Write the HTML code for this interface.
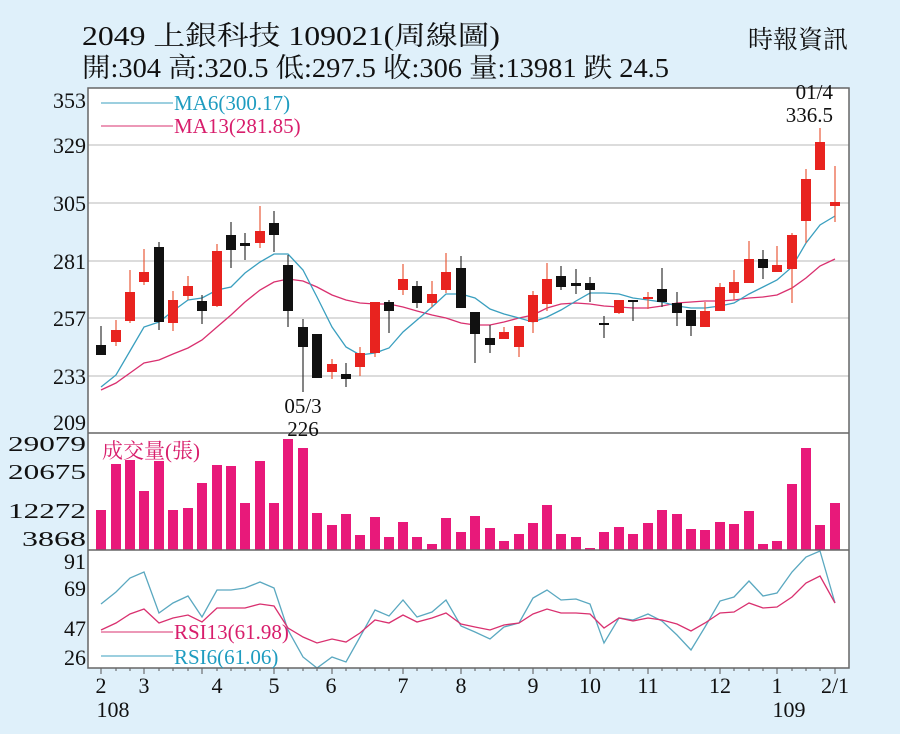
<!DOCTYPE html>
<html><head><meta charset="utf-8"><style>
html,body{margin:0;padding:0;background:#dff0fa;}
svg{display:block}
text{font-family:"Liberation Serif","Noto Serif CJK SC","Noto Sans CJK TC",serif;}
</style></head><body>
<svg id="s" width="900" height="734" viewBox="0 0 900 734" xmlns="http://www.w3.org/2000/svg">
<rect x="0" y="0" width="900" height="734" fill="#dff0fa"/>
<rect x="88" y="88" width="761" height="580" fill="#fff"/>
<g stroke="#c8c8c8" stroke-width="1.2">
<line x1="88" y1="145" x2="849" y2="145"/><line x1="88" y1="203" x2="849" y2="203"/>
<line x1="88" y1="261" x2="849" y2="261"/><line x1="88" y1="318" x2="849" y2="318"/>
<line x1="88" y1="376" x2="849" y2="376"/>
</g>
<g id="g"></g>
<g stroke="#666" stroke-width="1.5" fill="none">
<rect x="88" y="88" width="761" height="580"/>
<line x1="88" y1="433" x2="849" y2="433"/><line x1="88" y1="550" x2="849" y2="550"/>
</g>
<g font-size="22" fill="#111" text-anchor="end">
<text x="86" y="108">353</text><text x="86" y="153">329</text><text x="86" y="211">305</text>
<text x="86" y="269">281</text><text x="86" y="326">257</text><text x="86" y="384">233</text>
<text x="86" y="430">209</text>
</g>
<g font-size="21" fill="#111" text-anchor="end">
<text x="86" y="451" textLength="78" lengthAdjust="spacingAndGlyphs">29079</text><text x="86" y="479" textLength="78" lengthAdjust="spacingAndGlyphs">20675</text>
<text x="86" y="518" textLength="78" lengthAdjust="spacingAndGlyphs">12272</text><text x="86" y="546" textLength="64" lengthAdjust="spacingAndGlyphs">3868</text>
</g>
<g font-size="22" fill="#111" text-anchor="end">
<text x="86" y="569">91</text><text x="86" y="596">69</text><text x="86" y="636">47</text><text x="86" y="665">26</text>
</g>
<line x1="101" y1="103" x2="173" y2="103" stroke="#3a9fbf" stroke-width="1"/>
<text x="174" y="110" font-size="21" fill="#1f9cc0">MA6(300.17)</text>
<line x1="101" y1="126" x2="173" y2="126" stroke="#d9306f" stroke-width="1"/>
<text x="174" y="133" font-size="21" fill="#d81e6c">MA13(281.85)</text>
<text x="102" y="458" font-size="21" fill="#d81e6c">成交量(張)</text>
<line x1="101" y1="632" x2="173" y2="632" stroke="#d9306f" stroke-width="1"/>
<text x="174" y="639" font-size="21" fill="#d81e6c">RSI13(61.98)</text>
<line x1="101" y1="656" x2="173" y2="656" stroke="#3a9fbf" stroke-width="1"/>
<text x="174" y="664" font-size="21" fill="#1f9cc0">RSI6(61.06)</text>
<text x="303" y="413" font-size="21" fill="#111" text-anchor="middle">05/3</text>
<text x="303" y="436" font-size="21" fill="#111" text-anchor="middle">226</text>
<text x="833" y="99" font-size="21" fill="#111" text-anchor="end">01/4</text>
<text x="833" y="122" font-size="21" fill="#111" text-anchor="end">336.5</text>
<g font-size="22" fill="#111" text-anchor="middle">
<text x="101" y="693">2</text><text x="144" y="693">3</text><text x="217" y="693">4</text><text x="274" y="693">5</text>
<text x="331" y="693">6</text><text x="403" y="693">7</text><text x="461" y="693">8</text><text x="533" y="693">9</text>
<text x="590" y="693">10</text><text x="648" y="693">11</text><text x="720" y="693">12</text><text x="777" y="693">1</text>
<text x="835" y="693">2/1</text>
<text x="113" y="717">108</text><text x="789" y="717">109</text>
</g>
<text x="82" y="45" font-size="27" fill="#111" textLength="418" lengthAdjust="spacingAndGlyphs">2049  上銀科技 109021(周線圖)</text>
<text x="82" y="77" font-size="27" fill="#111" textLength="587" lengthAdjust="spacingAndGlyphs">開:304 高:320.5 低:297.5 收:306 量:13981 跌 24.5</text>
<text x="848" y="48" font-size="25" fill="#111" text-anchor="end">時報資訊</text>
</svg>
<script>
var NS="http://www.w3.org/2000/svg",g=document.getElementById("g");
function el(t,a){var e=document.createElementNS(NS,t);for(var k in a)e.setAttribute(k,a[k]);g.appendChild(e);return e;}
var X=[101,116,130,144,159,173,188,202,217,231,245,260,274,288,303,317,332,346,360,375,389,403,417,432,446,461,475,490,504,519,533,547,561,576,590,604,619,633,648,662,677,691,705,720,734,749,763,777,792,806,820,835];
var C=[[345,355,326,355,0],[330,342,320,346,1],[292,321,270,323,1],[272,282,249,285,1],[247,322,242,330,0],[300,323,291,331,1],[286,296,276,300,1],[301,311,295,324,0],[251,306,244,307,1],[235,250,222,268,0],[243,246,233,260,0],[231,243,206,248,1],[223,235,211,252,0],[265,311,255,327,0],[327,347,319,392,0],[334,378,334,378,0],[364,372,359,379,1],[374,379,363,387,0],[353,367,347,376,1],[302,353,302,357,1],[302,311,300,333,0],[279,290,264,295,1],[286,303,281,308,0],[294,303,281,307,1],[272,290,253,293,1],[268,308,256,308,0],[312,334,312,363,0],[338,345,325,353,0],[332,339,327,339,1],[326,347,326,357,1],[295,322,291,333,1],[279,304,263,311,1],[276,287,266,290,0],[283,286,269,294,0],[283,290,277,302,0],[323,325,316,338,0],[300,313,300,314,1],[300,302,300,321,0],[297,299,292,309,1],[289,302,268,307,0],[303,313,292,326,0],[310,326,310,336,0],[311,327,302,327,1],[287,311,283,311,1],[282,293,270,300,1],[259,283,241,283,1],[259,268,250,279,0],[265,272,246,272,1],[235,269,233,303,1],[179,221,169,243,1],[142,170,128,170,1],[202,206,166,222,1]];
var V=[510,464,460,491,461,510,508,483,465,466,503,461,503,439,448,513,525,514,535,517,537,522,537,544,518,532,516,528,541,534,523,505,534,537,548,532,527,534,523,510,514,529,530,522,524,511,544,541,484,448,525,503];
var MA6=[387,375,351,327,322,311,300,298,290,287,273,262,254,254,270,297,327,347,355,353,348,332,320,307,294,294,298,309,314,318,322,317,310,301,293,293,294,298,300,302,306,308,308,306,303,294,287,280,267,243,225,216];
var MA13=[390,383,373,363,360,354,348,340,327,315,302,290,282,279,281,287,295,300,303,304,304,307,311,315,318,323,325,325,322,318,315,308,304,303,304,306,307,308,308,306,303,302,301,301,300,298,297,295,288,278,266,259];
var R6=[604,592,578,572,613,603,596,617,590,590,588,582,588,630,657,668,657,662,637,610,616,600,617,612,600,626,632,639,627,623,598,590,600,599,604,643,618,620,614,621,635,650,627,601,597,581,596,593,572,557,551,603];
var R13=[630,623,614,609,623,618,615,622,608,608,608,604,606,628,637,643,639,642,633,620,623,615,622,618,613,624,627,630,625,623,614,609,613,613,614,628,618,621,618,620,624,631,623,613,612,603,608,607,597,583,576,603];
for(var i=0;i<52;i++)el("rect",{x:X[i]-5,y:V[i],width:10,height:550-V[i],fill:"#e8197a"});
for(var i=0;i<52;i++)el("line",{x1:X[i],y1:668,x2:X[i],y2:[0,3,7,12,16,21,25,30,34,38,43,47,51].indexOf(i)>=0?674:671,stroke:"#555","stroke-width":1});
function poly(a,c){var p=[];for(var i=0;i<a.length;i++)p.push(X[i]+","+a[i]);el("polyline",{points:p.join(" "),fill:"none",stroke:c,"stroke-width":1.3});}
poly(MA13,"#d9306f");poly(MA6,"#3a9fbf");
for(var i=0;i<52;i++){var c=C[i],col=c[4]?"#e8231f":"#111",wk=c[4]?"#e85a3a":"#333";
el("line",{x1:X[i],y1:c[2],x2:X[i],y2:c[3],stroke:wk,"stroke-width":1.2});
var h=Math.max(c[1]-c[0],2);el("rect",{x:X[i]-5,y:c[0],width:10,height:h,fill:col});}
poly(R6,"#5aa8c0");poly(R13,"#d9306f");
</script>
</body></html>
